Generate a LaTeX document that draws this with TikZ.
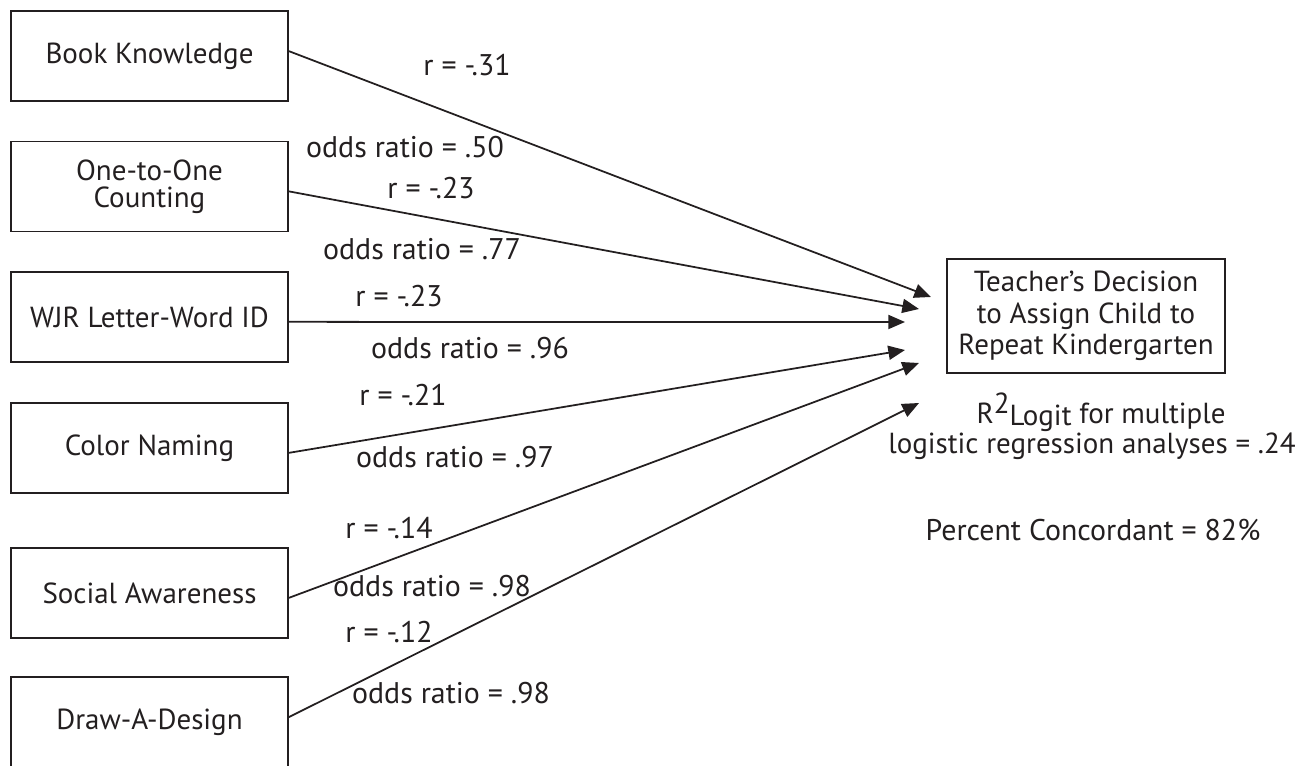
\documentclass[tikz,border=0pt]{standalone}
\usepackage{fontspec}
\setmainfont{PT Sans}
\usetikzlibrary{arrows.meta}
\definecolor{InkBlack}{HTML}{231F20}

\begin{document}
\begin{tikzpicture}[x=0.02cm, y=-0.02cm,
    font=\fontsize{17}{19}\selectfont,
    predictor/.style={draw=InkBlack, line width=1pt, minimum width=5.54cm, minimum height=1.8cm, align=center, inner sep=2pt, text=InkBlack, font=\fontsize{16.5}{15.5}\selectfont},
    outcome/.style={draw=InkBlack, line width=1pt, minimum width=5.56cm, minimum height=2.28cm, align=center, inner sep=2pt, text=InkBlack, font=\fontsize{16.5}{18}\selectfont},
    coef/.style={inner sep=0pt, text=InkBlack},
    path/.style={draw=InkBlack, line width=1pt, -{Triangle[length=9.5pt, width=8pt]}}]
  \useasboundingbox (0,0) rectangle (1304,766);
  % Predictors
  \node[predictor] (book) at (149.5,56) {Book Knowledge};
  \node[predictor] (count) at (149.5,186.5) {One-to-One\\Counting};
  \node[predictor] (wjr) at (149.5,317) {WJR Letter-Word ID};
  \node[predictor] (color) at (149.5,448) {Color Naming};
  \node[predictor] (social) at (149.5,593) {Social Awareness};
  \node[predictor] (design) at (149.5,722) {Draw-A-Design};
  % Outcome
  \node[outcome] (decision) at (1086,316) {Teacher's Decision\\to Assign Child to\\Repeat Kindergarten};
  \coordinate (t1) at (931,297);
  \coordinate (t2) at (919,309);
  \coordinate (t3) at (905,322);
  \coordinate (t4) at (905,350);
  \coordinate (t5) at (919,363);
  \coordinate (t6) at (919,403);
  % Paths
  \draw[path] (book.2.9) -- (t1);
  \draw[path] (count.-2.3) -- (t2);
  \draw[path] (wjr.-2.5) -- (t3);
  \draw[path] (color.-2.5) -- (t4);
  \draw[path] (social.-2) -- (t5);
  \draw[path] (design.2.9) -- (t6);
  % Coefficients
  \node[coef] (r1) at (467,65) {r = -.31};
  \node[coef] (or1) at (405,147) {odds ratio = .50};
  \node[coef] (r2) at (431,188) {r = -.23};
  \node[coef] (or2) at (422,249) {odds ratio = .77};
  \node[coef] (r3) at (399,296) {r = -.23};
  \node[coef] (or3) at (470,348) {odds ratio = .96};
  \node[coef] (r4) at (403,395) {r = -.21};
  \node[coef] (or4) at (455,457) {odds ratio = .97};
  \node[coef] (r5) at (389,528) {r = -.14};
  \node[coef] (or5) at (432,586) {odds ratio = .98};
  \node[coef] (r6) at (389,632) {r = -.12};
  \node[coef] (or6) at (451,693) {odds ratio = .98};
  % Model fit
  \node[coef, anchor=base, font=\fontsize{16.5}{18}\selectfont] (fit) at (1101,423) {R\raisebox{0.32em}{2}\raisebox{-0.1em}{Logit} for multiple};
  \node[coef, anchor=base, font=\fontsize{16.5}{18}\selectfont] (fitb) at (1092,454) {logistic regression analyses = .24};
  \node[coef, anchor=base] (conc) at (1093,540) {Percent Concordant = 82\%};
\end{tikzpicture}
\end{document}
